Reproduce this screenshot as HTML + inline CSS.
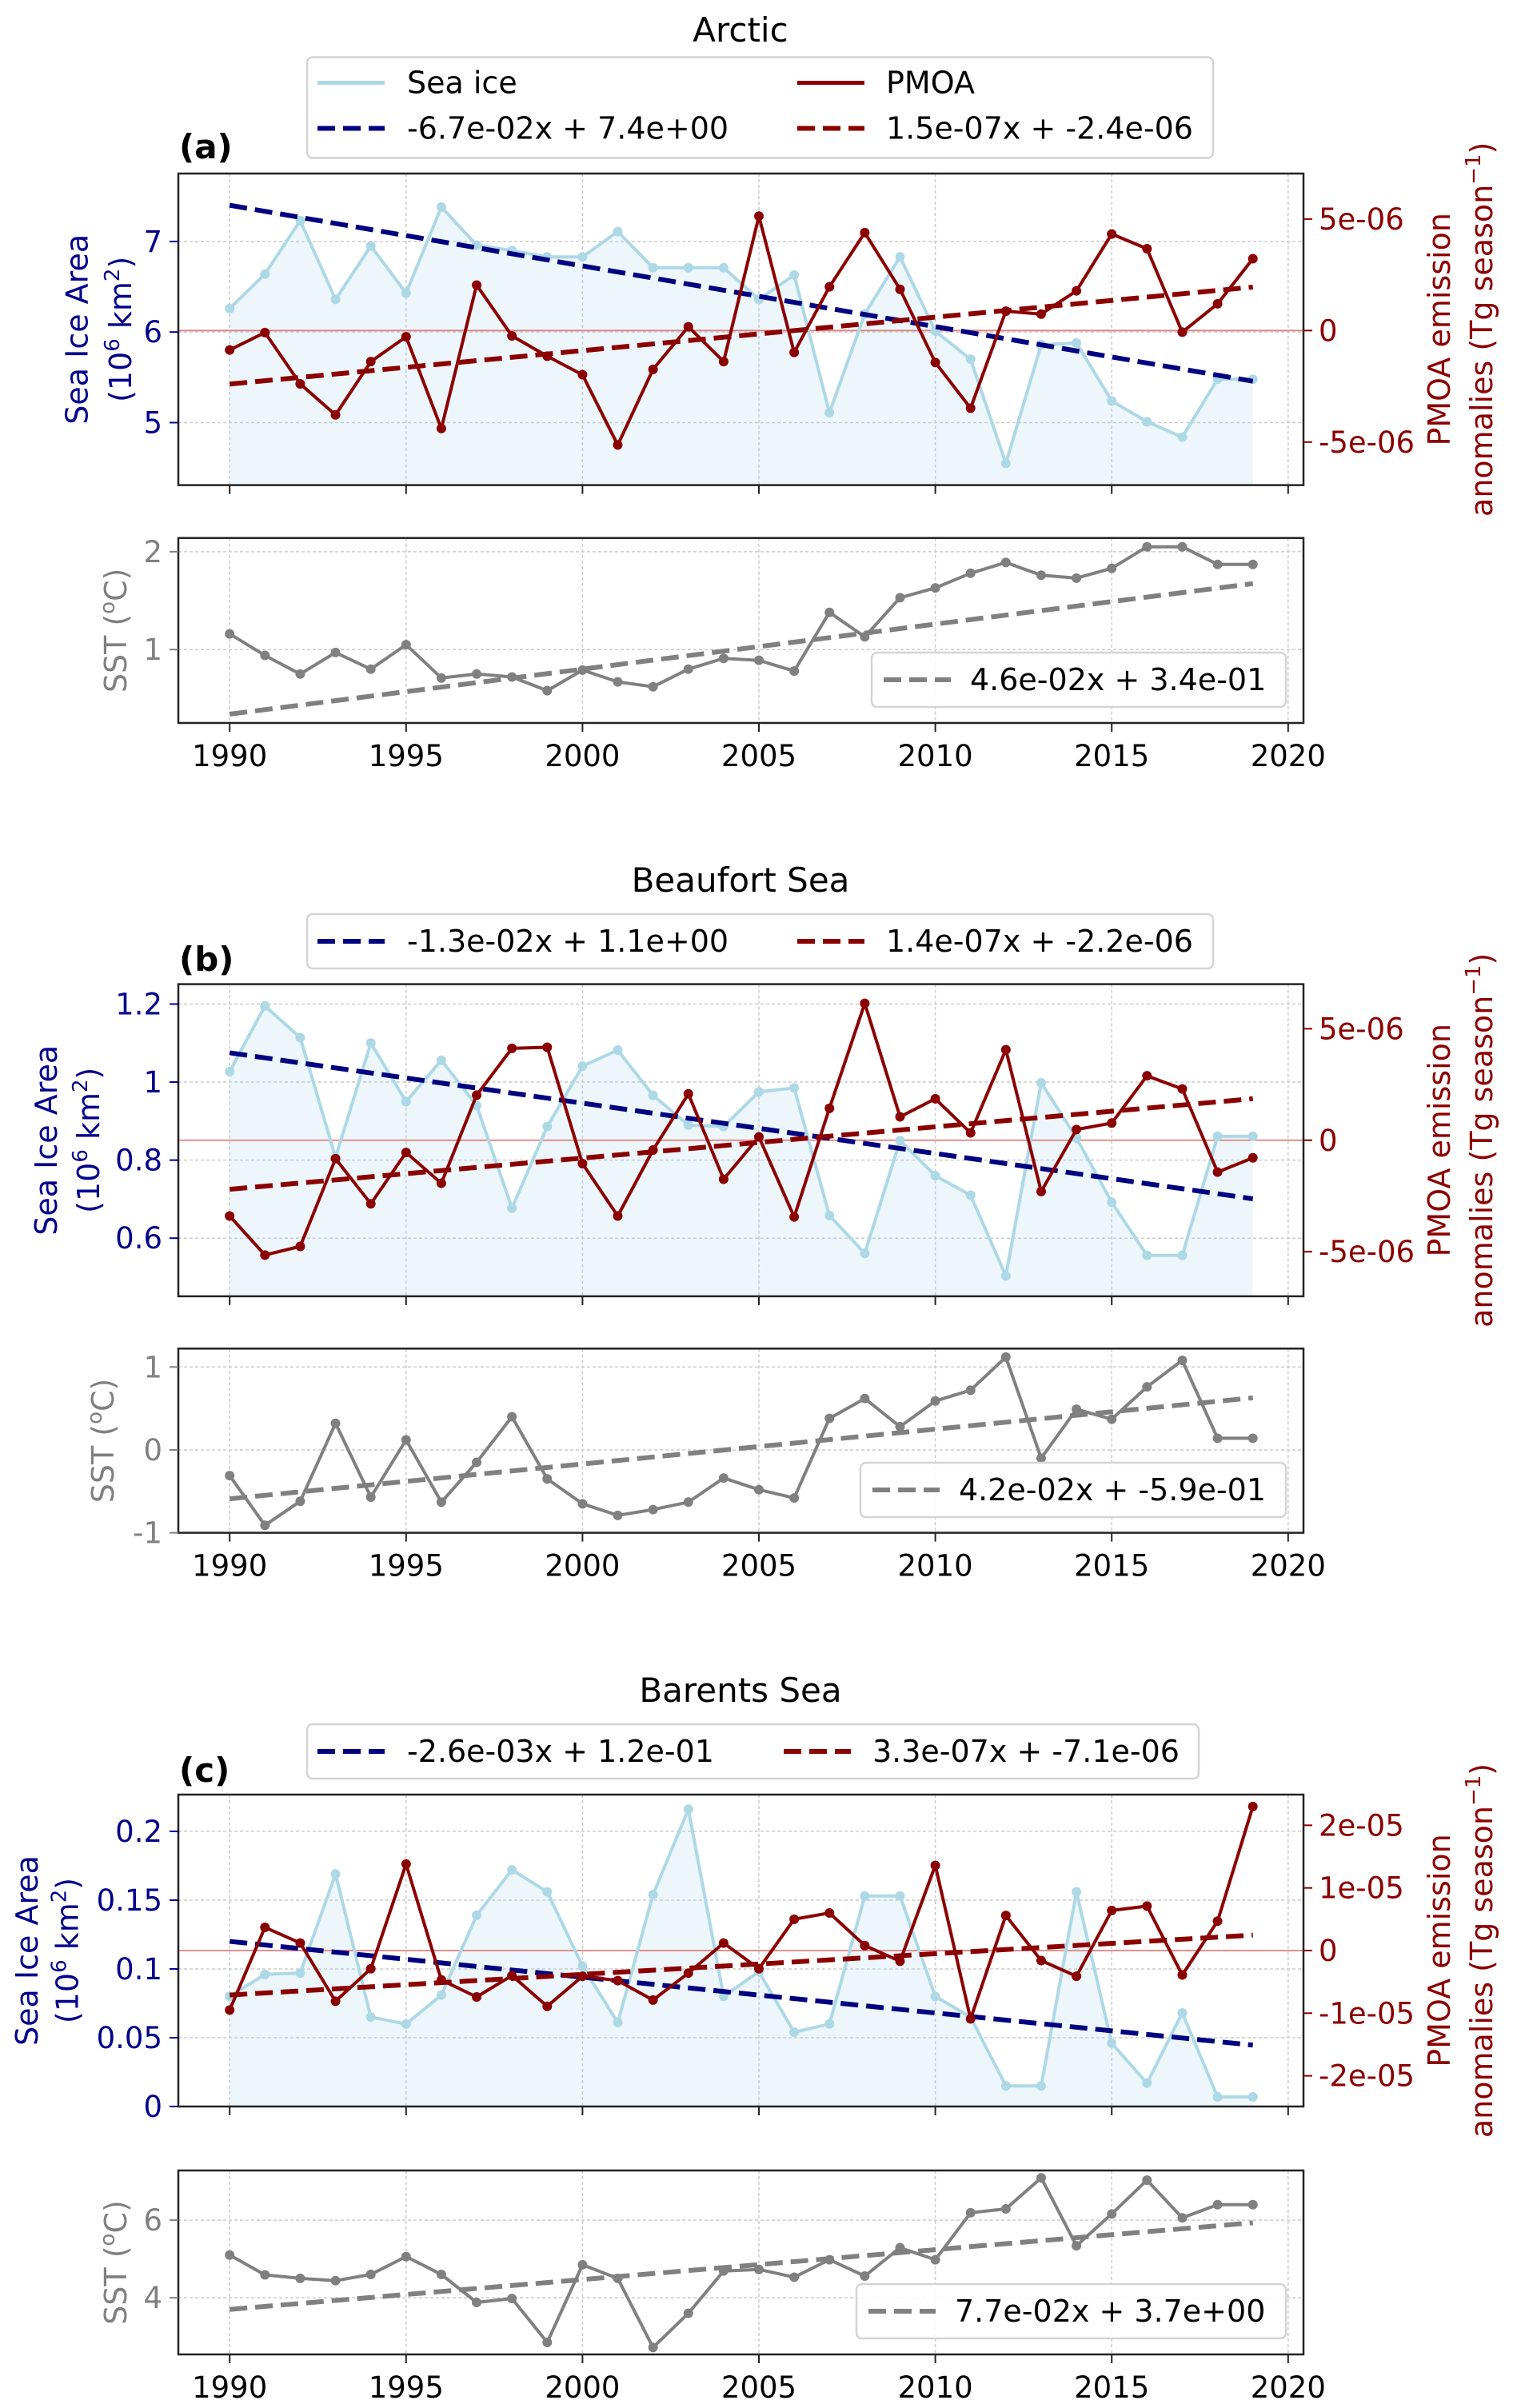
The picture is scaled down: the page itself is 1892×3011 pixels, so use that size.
<!DOCTYPE html>
<html><head><meta charset="utf-8">
<style>
html,body{margin:0;padding:0;background:#fff;}
svg{display:block;font-family:"DejaVu Sans","Liberation Sans",sans-serif;}
</style></head>
<body>
<svg id="fig" width="1892" height="3011" viewBox="0 0 1892 3011" xmlns="http://www.w3.org/2000/svg"></svg>
<script>
// ---------- DATA ----------
const years = [1990,1991,1992,1993,1994,1995,1996,1997,1998,1999,2000,2001,2002,2003,2004,2005,2006,2007,2008,2009,2010,2011,2012,2013,2014,2015,2016,2017,2018,2019];
const xTicks = [1990,1995,2000,2005,2010,2015,2020];

const arcticIce = [6.26,6.64,7.23,6.36,6.95,6.43,7.38,6.96,6.90,6.83,6.83,7.11,6.71,6.71,6.71,6.36,6.63,5.11,6.20,6.83,6.01,5.70,4.55,5.86,5.88,5.24,5.01,4.84,5.48,5.48];
const arcticPmoa = [-0.87e-6,-0.09e-6,-2.39e-6,-3.78e-6,-1.39e-6,-0.28e-6,-4.39e-6,2.04e-6,-0.24e-6,-1.15e-6,-1.98e-6,-5.13e-6,-1.74e-6,0.17e-6,-1.39e-6,5.13e-6,-0.98e-6,1.96e-6,4.39e-6,1.85e-6,-1.43e-6,-3.48e-6,0.87e-6,0.74e-6,1.78e-6,4.33e-6,3.67e-6,-0.07e-6,1.2e-6,3.22e-6];
const arcticSst = [1.16,0.94,0.75,0.97,0.80,1.05,0.71,0.75,0.72,0.58,0.79,0.67,0.62,0.80,0.91,0.89,0.78,1.38,1.13,1.53,1.63,1.78,1.89,1.76,1.73,1.83,2.05,2.05,1.87,1.87];
const arcticIceTrend = [-0.067, 7.4];
const arcticPmoaTrend = [1.5e-7, -2.4e-6];
const arcticSstTrend = [0.046, 0.34];

const beaufortIce = [1.027,1.195,1.114,0.807,1.10,0.95,1.056,0.94,0.677,0.886,1.041,1.082,0.966,0.89,0.886,0.975,0.985,0.658,0.561,0.85,0.76,0.71,0.503,0.998,0.857,0.692,0.556,0.556,0.861,0.861];
const beaufortPmoa = [-3.4e-6,-5.15e-6,-4.76e-6,-0.83e-6,-2.85e-6,-0.55e-6,-1.93e-6,2.02e-6,4.12e-6,4.17e-6,-1.05e-6,-3.4e-6,-0.44e-6,2.08e-6,-1.75e-6,0.15e-6,-3.44e-6,1.43e-6,6.14e-6,1.05e-6,1.86e-6,0.33e-6,4.06e-6,-2.3e-6,0.48e-6,0.77e-6,2.89e-6,2.3e-6,-1.43e-6,-0.79e-6];
const beaufortSst = [-0.31,-0.91,-0.62,0.32,-0.57,0.12,-0.63,-0.15,0.40,-0.35,-0.65,-0.79,-0.72,-0.63,-0.34,-0.48,-0.58,0.38,0.62,0.28,0.59,0.72,1.12,-0.10,0.49,0.37,0.76,1.08,0.14,0.14];
const beaufortIceTrend = [-0.0129, 1.075];
const beaufortPmoaTrend = [1.4e-7, -2.2e-6];
const beaufortSstTrend = [0.042, -0.59];

const barentsIce = [0.080,0.096,0.097,0.169,0.065,0.060,0.081,0.139,0.172,0.156,0.102,0.061,0.154,0.216,0.080,0.098,0.054,0.060,0.153,0.153,0.080,0.065,0.015,0.015,0.156,0.046,0.017,0.068,0.007,0.007];
const barentsPmoa = [-0.95e-5,0.37e-5,0.12e-5,-0.81e-5,-0.29e-5,1.38e-5,-0.47e-5,-0.74e-5,-0.40e-5,-0.89e-5,-0.41e-5,-0.48e-5,-0.79e-5,-0.36e-5,0.12e-5,-0.29e-5,0.50e-5,0.60e-5,0.08e-5,-0.17e-5,1.36e-5,-1.09e-5,0.56e-5,-0.16e-5,-0.41e-5,0.64e-5,0.71e-5,-0.39e-5,0.47e-5,2.30e-5];
const barentsSst = [5.10,4.59,4.50,4.44,4.60,5.06,4.60,3.88,3.98,2.85,4.85,4.50,2.72,3.60,4.69,4.73,4.53,4.98,4.56,5.29,4.98,6.19,6.29,7.09,5.34,6.16,7.03,6.06,6.40,6.40];
const barentsIceTrend = [-0.0026, 0.12];
const barentsPmoaTrend = [3.3e-7, -7.1e-6];
const barentsSstTrend = [0.077, 3.7];

const arcticIceTicks = [5,6,7];
const arcticPmoaTicks = [-5e-6,0,5e-6];
const arcticPmoaTickLabels = ['-5e-06','0','5e-06'];
const arcticSstTicks = [1,2];
const beaufortIceTicks = [0.6,0.8,1,1.2];
const beaufortIceTickLabels = ['0.6','0.8','1','1.2'];
const beaufortPmoaTicks = [-5e-6,0,5e-6];
const beaufortPmoaTickLabels = ['-5e-06','0','5e-06'];
const beaufortSstTicks = [-1,0,1];
const barentsIceTicks = [0,0.05,0.1,0.15,0.2];
const barentsIceTickLabels = ['0','0.05','0.1','0.15','0.2'];
const barentsPmoaTicks = [-2e-5,-1e-5,0,1e-5,2e-5];
const barentsPmoaTickLabels = ['-2e-05','-1e-05','0','1e-05','2e-05'];
const barentsSstTicks = [4,6];

// ---------- DRAWING ----------
const NS = 'http://www.w3.org/2000/svg';
const svg = document.getElementById('fig');
const AX_L = 223, AX_R = 1630;
const XMIN = 1988.545, XMAX = 2020.435;
function xs(v){ return AX_L + (v - XMIN) / (XMAX - XMIN) * (AX_R - AX_L); }
function mk(tag, attrs, parent){
  const e = document.createElementNS(NS, tag);
  for (const k in attrs) e.setAttribute(k, attrs[k]);
  (parent || svg).appendChild(e);
  return e;
}
function txt(s, attrs, parent){ const t = mk('text', attrs, parent); t.textContent = s; return t; }
function yScale(top, bottom, lo, hi){ return v => bottom - (v - lo) / (hi - lo) * (bottom - top); }

const NAVY = '#00008b', RED = '#8b0000', ICE = '#add8e6', GRAY = '#808080';

function grid(g, top, bottom, yvals, ys){
  xTicks.forEach(t => { const l = mk('line', {x1:xs(t),x2:xs(t),y1:top,y2:bottom,stroke:'#cccccc','stroke-width':1.5,'stroke-dasharray':'4,3'}, g);
      });
  yvals.forEach(v => { const l = mk('line', {x1:AX_L,x2:AX_R,y1:ys(v),y2:ys(v),stroke:'#cccccc','stroke-width':1.5,'stroke-dasharray':'4,3'}, g);
      });
}
function polyline(g, vals, ys, color, width, name){
  const pts = years.map((y,i) => xs(y).toFixed(1) + ',' + ys(vals[i]).toFixed(1)).join(' ');
  const p = mk('polyline', {points:pts, fill:'none', stroke:color, 'stroke-width':width, 'stroke-linejoin':'round'}, g);
  
  
  vals.forEach((v,i) => {
    const c = mk('circle', {cx:xs(years[i]), cy:ys(v), r:6, fill:color}, g);
    
    
  });
}
function trend(g, coef, ys, color, name){
  const x0 = years[0], x1 = years[years.length-1];
  const v0 = coef[1], v1 = coef[0]*(years.length-1) + coef[1];
  const l = mk('line', {x1:xs(x0), y1:ys(v0), x2:xs(x1), y2:ys(v1), stroke:color, 'stroke-width':6, 'stroke-dasharray':'22,10'}, g);
  
  
}
function frame(g, top, bottom){
  const r = mk('rect', {x:AX_L, y:top, width:AX_R-AX_L, height:bottom-top, fill:'none', stroke:'#222', 'stroke-width':2.5}, g);
  
  
}
function xAxis(g, bottom, labels){
  xTicks.forEach(t => {
    mk('line', {x1:xs(t),x2:xs(t),y1:bottom,y2:bottom+11,stroke:'#222','stroke-width':2}, g);
    if (labels){
      const tl = txt(String(t), {x:xs(t), y:bottom+54, 'font-size':37, 'text-anchor':'middle', fill:'#000'}, g);
      
      
    }
  });
}
function leftTicks(g, ticks, labels, ys, color){
  ticks.forEach((v,i) => {
    mk('line', {x1:AX_L-11,x2:AX_L,y1:ys(v),y2:ys(v),stroke:color,'stroke-width':2}, g);
    const t = txt(labels[i], {x:AX_L-20, y:ys(v)+13, 'font-size':37, 'text-anchor':'end', fill:color}, g);
    
    
  });
}
function rightTicks(g, ticks, labels, ys){
  ticks.forEach((v,i) => {
    mk('line', {x1:AX_R,x2:AX_R+11,y1:ys(v),y2:ys(v),stroke:RED,'stroke-width':2}, g);
    const t = txt(labels[i], {x:AX_R+19, y:ys(v)+13, 'font-size':37, 'text-anchor':'start', fill:RED}, g);
    
    
  });
}
function legendBox(g, x, y, w, h, name){
  const r = mk('rect', {x:x, y:y, width:w, height:h, rx:7, fill:'#fff', 'fill-opacity':0.85, stroke:'#d4d4d4', 'stroke-width':2.5}, g);
  
  
}
function legendEntry(g, x, y, color, dashed, label, textX){
  mk('line', {x1:x, x2:x+84, y1:y, y2:y, stroke:color, 'stroke-width':dashed?6:5, 'stroke-dasharray':dashed?'22,10':'none'}, g);
  const t = txt(label, {x:textX, y:y+13, 'font-size':38, fill:'#000'}, g);
  
  
}

function panel(cfg){
  const g = mk('g', {});
  
  
  const m = cfg.main, s = cfg.sst;
  const yl = yScale(m.top, m.bottom, m.lo, m.hi);
  const yr = yScale(m.top, m.bottom, m.rlo, m.rhi);
  const yt = yScale(s.top, s.bottom, s.lo, s.hi);

  const ti = txt(cfg.title, {x:926, y:cfg.titleY, 'font-size':42, 'text-anchor':'middle', fill:'#000'}, g);
   
  const pl = txt(cfg.letter, {x:224, y:cfg.letterY, 'font-size':42, 'font-weight':'bold', fill:'#000'}, g);
   

  grid(g, m.top, m.bottom, m.ticks, yl);
  const fillPts = years.map((y,i) => xs(y).toFixed(1)+','+yl(cfg.ice[i]).toFixed(1)).join(' ')
    + ' ' + xs(years[years.length-1]).toFixed(1)+','+m.bottom + ' ' + xs(years[0]).toFixed(1)+','+m.bottom;
  const f = mk('polygon', {points:fillPts, fill:ICE, 'fill-opacity':0.22, stroke:'none'}, g);
   
  const zl = mk('line', {x1:AX_L, x2:AX_R, y1:yr(0), y2:yr(0), stroke:'#e08080', 'stroke-width':1.8}, g);
   
  polyline(g, cfg.ice, yl, ICE, 4, 'sea-ice-line');
  trend(g, cfg.iceTrend, yl, '#000080', 'sea-ice-trend');
  polyline(g, cfg.pmoa, yr, RED, 4, 'pmoa-line');
  trend(g, cfg.pmoaTrend, yr, RED, 'pmoa-trend');
  frame(g, m.top, m.bottom);
  xAxis(g, m.bottom, false);
  leftTicks(g, m.ticks, m.labels, yl, NAVY);
  rightTicks(g, m.rticks, m.rlabels, yr);

  const cy = (m.top + m.bottom)/2;
  const l1 = txt('Sea Ice Area', {x:0, y:0, 'font-size':38, 'text-anchor':'middle', fill:NAVY, transform:`translate(${cfg.ylx1+13},${cy}) rotate(-90)`}, g);
   
  const l2 = mk('text', {x:0, y:0, 'font-size':38, 'text-anchor':'middle', fill:NAVY, transform:`translate(${cfg.ylx2+13},${cy}) rotate(-90)`}, g);
  l2.innerHTML = '(10<tspan baseline-shift="super" font-size="26">6</tspan> km<tspan baseline-shift="super" font-size="26">2</tspan>)';
   
  const r1 = txt('PMOA emission', {x:0, y:0, 'font-size':38, 'text-anchor':'middle', fill:RED, transform:`translate(${1813},${cy}) rotate(-90)`}, g);
   
  const r2 = mk('text', {x:0, y:0, 'font-size':38, 'text-anchor':'middle', fill:RED, transform:`translate(${1866},${cy}) rotate(-90)`}, g);
  r2.innerHTML = 'anomalies (Tg season<tspan baseline-shift="super" font-size="26">−1</tspan>)';
   

  const lg = mk('g', {}, g);
   
  legendBox(lg, 384, cfg.leg.top, cfg.leg.w, cfg.leg.h, 'main-legend-box');
  if (cfg.leg.rows === 2){
    legendEntry(lg, 397, cfg.leg.top+32, ICE, false, 'Sea ice', 509);
    legendEntry(lg, 997, cfg.leg.top+32, RED, false, 'PMOA', 1108);
    legendEntry(lg, 397, cfg.leg.top+89, '#000080', true, cfg.leg.t1, 509);
    legendEntry(lg, 997, cfg.leg.top+89, RED, true, cfg.leg.t2, 1108);
  } else {
    legendEntry(lg, 397, cfg.leg.top+34, '#000080', true, cfg.leg.t1, 509);
    legendEntry(lg, cfg.leg.x2, cfg.leg.top+34, RED, true, cfg.leg.t2, cfg.leg.x2+111);
  }

  grid(g, s.top, s.bottom, s.ticks, yt);
  polyline(g, cfg.sstVals, yt, GRAY, 4, 'sst-line');
  trend(g, cfg.sstTrend, yt, GRAY, 'sst-trend');
  frame(g, s.top, s.bottom);
  xAxis(g, s.bottom, true);
  leftTicks(g, s.ticks, s.ticks.map(String), yt, GRAY);
  const sl = mk('text', {x:0, y:0, 'font-size':38, 'text-anchor':'middle', fill:GRAY, transform:`translate(${cfg.sstlx+13},${(s.top+s.bottom)/2}) rotate(-90)`}, g);
  sl.innerHTML = 'SST (<tspan baseline-shift="super" font-size="26">o</tspan>C)';
   
  const sg = mk('g', {}, g);
   
  legendBox(sg, cfg.sl.x, cfg.sl.top, 1608 - cfg.sl.x, 68, 'sst-legend-box');
  legendEntry(sg, cfg.sl.x+15, cfg.sl.top+34, GRAY, true, cfg.sl.t, cfg.sl.x+123);
}

panel({
  name:'panel-arctic', title:'Arctic', titleY:52, letter:'(a)', letterY:198,
  ice:arcticIce, pmoa:arcticPmoa, sstVals:arcticSst,
  iceTrend:arcticIceTrend, pmoaTrend:arcticPmoaTrend, sstTrend:arcticSstTrend,
  main:{top:217, bottom:606.6, lo:4.31, hi:7.75, ticks:arcticIceTicks, labels:arcticIceTicks.map(String),
        rlo:-6.93e-6, rhi:7.04e-6, rticks:arcticPmoaTicks, rlabels:arcticPmoaTickLabels},
  sst:{top:672.7, bottom:904, lo:0.25, hi:2.14, ticks:arcticSstTicks},
  ylx1:96.5, ylx2:150.8, sstlx:145,
  leg:{rows:2, top:71.5, w:1133, h:126, t1:'-6.7e-02x + 7.4e+00', t2:'1.5e-07x + -2.4e-06'},
  sl:{x:1090, top:816, t:'4.6e-02x + 3.4e-01'}
});
panel({
  name:'panel-beaufort', title:'Beaufort Sea', titleY:1115, letter:'(b)', letterY:1214,
  ice:beaufortIce, pmoa:beaufortPmoa, sstVals:beaufortSst,
  iceTrend:beaufortIceTrend, pmoaTrend:beaufortPmoaTrend, sstTrend:beaufortSstTrend,
  main:{top:1230.6, bottom:1620.9, lo:0.451, hi:1.251, ticks:beaufortIceTicks, labels:beaufortIceTickLabels,
        rlo:-7.0e-6, rhi:7.0e-6, rticks:beaufortPmoaTicks, rlabels:beaufortPmoaTickLabels},
  sst:{top:1686.3, bottom:1916.6, lo:-1, hi:1.222, ticks:beaufortSstTicks},
  ylx1:58, ylx2:111, sstlx:129,
  leg:{rows:1, top:1143, w:1133, h:68, x2:997, t1:'-1.3e-02x + 1.1e+00', t2:'1.4e-07x + -2.2e-06'},
  sl:{x:1076, top:1829, t:'4.2e-02x + -5.9e-01'}
});
panel({
  name:'panel-barents', title:'Barents Sea', titleY:2128, letter:'(c)', letterY:2228,
  ice:barentsIce, pmoa:barentsPmoa, sstVals:barentsSst,
  iceTrend:barentsIceTrend, pmoaTrend:barentsPmoaTrend, sstTrend:barentsSstTrend,
  main:{top:2244, bottom:2634, lo:0, hi:0.2267, ticks:barentsIceTicks, labels:barentsIceTickLabels,
        rlo:-2.49e-5, rhi:2.49e-5, rticks:barentsPmoaTicks, rlabels:barentsPmoaTickLabels},
  sst:{top:2714, bottom:2944, lo:2.54, hi:7.28, ticks:barentsSstTicks},
  ylx1:34, ylx2:84.5, sstlx:145,
  leg:{rows:1, top:2156, w:1115, h:68, x2:980, t1:'-2.6e-03x + 1.2e-01', t2:'3.3e-07x + -7.1e-06'},
  sl:{x:1071, top:2856, t:'7.7e-02x + 3.7e+00'}
});
</script>
</body></html>
